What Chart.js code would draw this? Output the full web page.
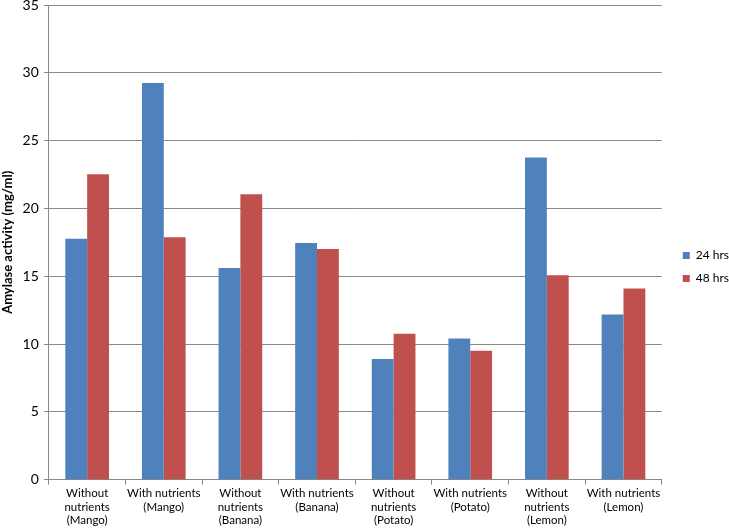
<!DOCTYPE html>
<html>
<head>
<meta charset="utf-8">
<script src="https://cdn.jsdelivr.net/npm/chart.js@4"></script>
<style>
  html, body { margin: 0; padding: 0; background: #fff; }
  #wrap { width: 729px; height: 529px; }
</style>
</head>
<body>
<div id="wrap"><canvas id="chart" width="729" height="529"></canvas></div>
<script>
const categories = [
  ["Without", "nutrients", "(Mango)"],
  ["With nutrients", "(Mango)"],
  ["Without", "nutrients", "(Banana)"],
  ["With nutrients", "(Banana)"],
  ["Without", "nutrients", "(Potato)"],
  ["With nutrients", "(Potato)"],
  ["Without", "nutrients", "(Lemon)"],
  ["With nutrients", "(Lemon)"]
];
const hrs24 = [17.77, 29.25, 15.6, 17.45, 8.9, 10.4, 23.76, 12.17];
const hrs48 = [22.52, 17.87, 21.05, 17.0, 10.76, 9.5, 15.07, 14.1];
const yTicks = [0, 5, 10, 15, 20, 25, 30, 35];

const fontFamily = "Lato, 'Open Sans', sans-serif";

// nudge the legend a little to the right of the plot, as in the original
const legendShift = {
  id: "legendShift",
  afterLayout(chart) {
    chart.legend.left += 10;
    chart.legend.right += 10;
  }
};

new Chart(document.getElementById("chart"), {
  type: "bar",
  data: {
    labels: categories,
    datasets: [
      { label: "24 hrs", data: hrs24, backgroundColor: "#4F81BD", borderWidth: 0 },
      { label: "48 hrs", data: hrs48, backgroundColor: "#C0504D", borderWidth: 0 }
    ]
  },
  options: {
    responsive: false,
    animation: false,
    layout: { padding: { top: 5, right: 0, left: 0, bottom: 0 } },
    datasets: { bar: { categoryPercentage: 0.57, barPercentage: 1.0 } },
    plugins: {
      tooltip: { enabled: false },
      legend: {
        position: "right",
        align: "center",
        maxWidth: 69,
        labels: {
          boxWidth: 7,
          boxHeight: 7,
          padding: 11,
          color: "#000",
          font: { family: fontFamily, size: 12 }
        }
      }
    },
    scales: {
      x: {
        grid: {
          offset: true,
          drawOnChartArea: false,
          drawTicks: true,
          tickLength: 5,
          color: "#888"
        },
        border: { color: "#888" },
        ticks: {
          color: "#000",
          padding: 2,
          maxRotation: 0,
          autoSkip: false,
          font: { family: fontFamily, size: 11.5, lineHeight: 1.17 }
        }
      },
      y: {
        min: 0,
        max: 35,
        afterBuildTicks: axis => { axis.ticks = yTicks.map(v => ({ value: v })); },
        afterFit: axis => { axis.paddingTop = 0; },
        grid: { color: "#888", tickLength: 5 },
        border: { color: "#888" },
        ticks: {
          color: "#000",
          padding: 5,
          font: { family: fontFamily, size: 14 }
        },
        title: {
          display: true,
          text: "Amylase activity (mg/ml)",
          color: "#000",
          padding: { top: 0, bottom: 2 },
          font: { family: fontFamily, size: 13, weight: "bold" }
        }
      }
    }
  },
  plugins: [legendShift]
});
</script>
</body>
</html>
